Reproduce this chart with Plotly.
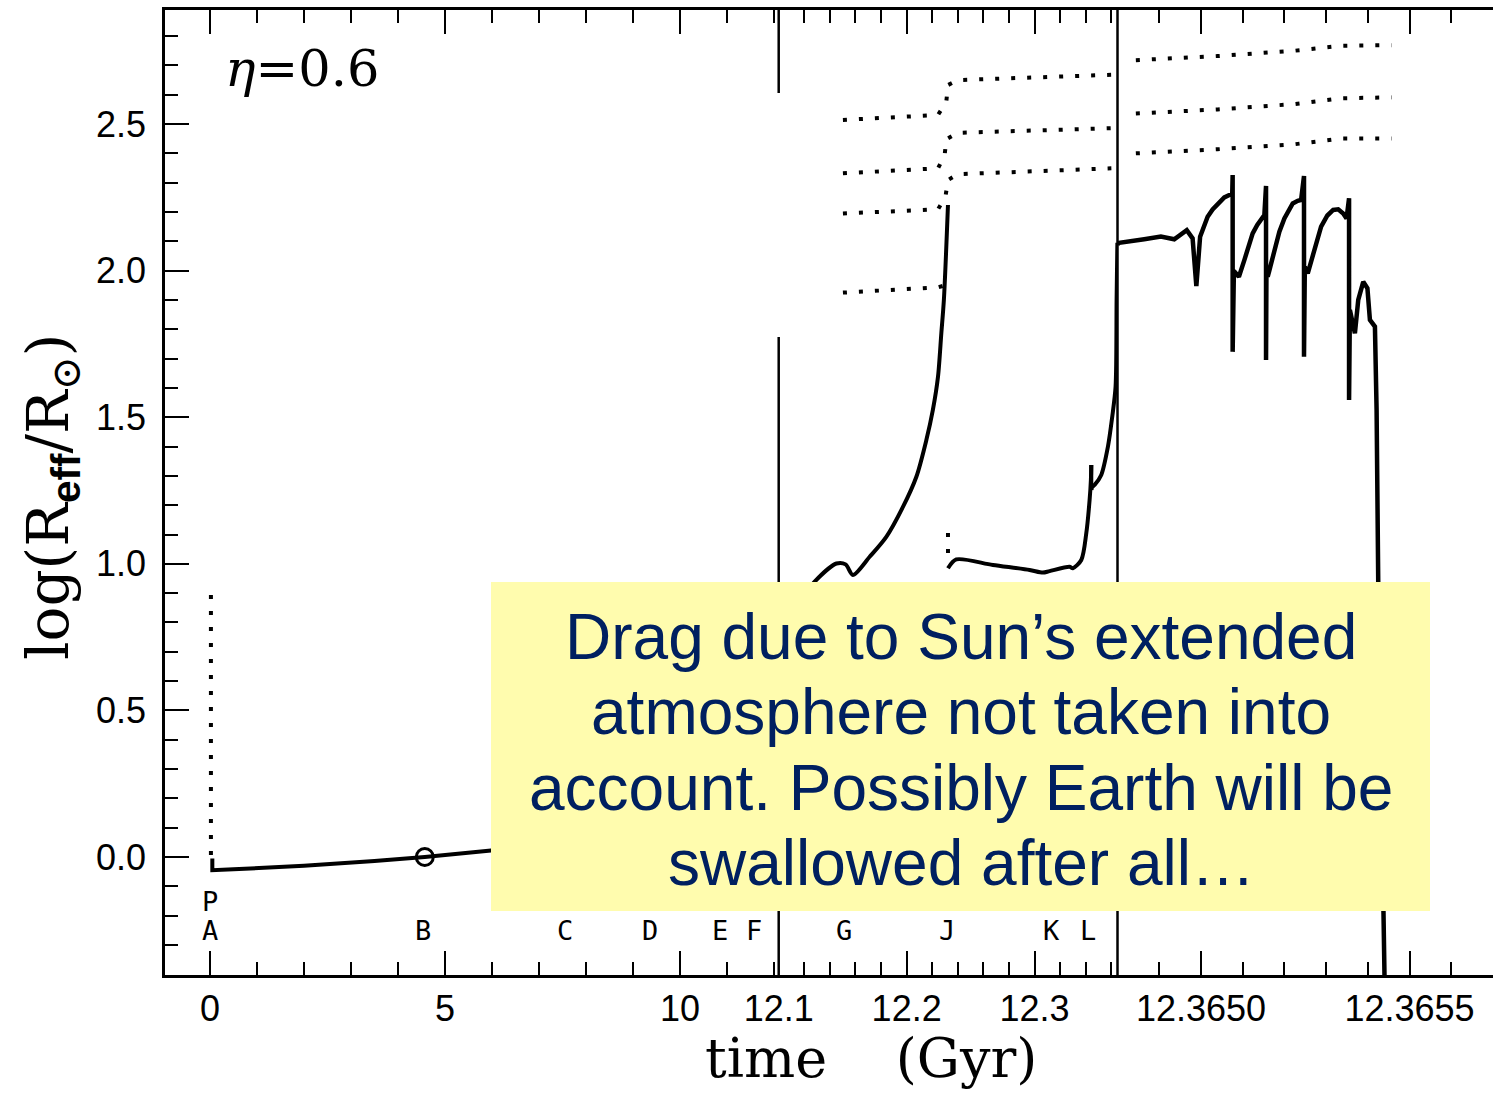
import plotly.graph_objects as go

# ---------------- data ----------------
# Panel 1: 0 - 12.1 Gyr
p1_time = [0.05, 0.05, 0.5, 2.0, 3.5, 4.57, 5.98, 6.4]
p1_logr = [-0.005, -0.045, -0.042, -0.030, -0.014, 0.0, 0.022, 0.03]
p1_dot_time = [0.02, 0.02]
p1_dot_logr = [0.894, -0.02]
present_time = [4.57]
present_logr = [0.0]

# Panel 2: 12.1 - 12.3648 Gyr  (RGB tip)
rgb_time = [12.118, 12.1281, 12.1451, 12.1523, 12.1580, 12.1711, 12.1841, 12.1971,
            12.2076, 12.2154, 12.2205, 12.2245, 12.2271, 12.2291, 12.2323]
rgb_logr = [0.88, 0.939, 1.001, 0.998, 0.962, 1.024, 1.092, 1.194,
            1.297, 1.422, 1.525, 1.638, 1.786, 1.900, 2.224]
# horizontal branch / early AGB (before and after the small spike)
agb1_time = [12.2323, 12.2388, 12.2674, 12.2961, 12.3065, 12.3117, 12.3273, 12.3299,
             12.3365, 12.3404, 12.3430, 12.3440, 12.3443]
agb1_logr = [0.985, 1.015, 0.996, 0.979, 0.970, 0.975, 0.990, 0.985,
             1.013, 1.104, 1.218, 1.286, 1.337]
agb2_time = [12.3443, 12.3450, 12.3469, 12.3521, 12.3573, 12.3607, 12.3633, 12.3641, 12.3647]
agb2_logr = [1.252, 1.262, 1.269, 1.303, 1.399, 1.502, 1.604, 1.900, 2.095]
j_dot_time = [12.2323, 12.2323]
j_dot_logr = [1.105, 1.037]

# orbit (dotted) curves, panel 2
orb2_time_a = [12.1502, 12.2245, 12.2310, 12.2323, 12.2401, 12.3534, 12.3600]
orb2_logr_a = [2.514, 2.531, 2.576, 2.633, 2.650, 2.664, 2.668]
orb2_time_b = [12.1502, 12.2245, 12.2297, 12.2310, 12.2401, 12.3534, 12.3600]
orb2_logr_b = [2.332, 2.349, 2.394, 2.448, 2.470, 2.482, 2.486]
orb2_time_c = [12.1502, 12.2245, 12.2304, 12.2323, 12.2401, 12.3534, 12.3600]
orb2_logr_c = [2.195, 2.209, 2.254, 2.309, 2.329, 2.345, 2.349]
orb2_time_d = [12.1502, 12.2245, 12.2300]
orb2_logr_d = [1.925, 1.943, 1.950]

# Panel 3: 12.3648 - 12.3657 Gyr (thermal pulses)
tp_time = [12.364800, 12.364804, 12.364864, 12.364904, 12.364936, 12.364952, 12.364966,
           12.364980, 12.364989, 12.364998, 12.365008, 12.365016, 12.365028, 12.365040,
           12.365056, 12.365068, 12.365075,
           12.365076, 12.365076, 12.365079, 12.365091, 12.365104, 12.365114, 12.365124,
           12.365135, 12.365144, 12.365152,
           12.365156, 12.365156, 12.365157, 12.365160, 12.365168, 12.365176, 12.365188,
           12.365200, 12.365212, 12.365220, 12.365232, 12.365240,
           12.365247, 12.365247, 12.365249, 12.365256, 12.365268, 12.365279, 12.365288,
           12.365303, 12.365317, 12.365329, 12.365341, 12.365349,
           12.365355, 12.365355, 12.365357, 12.365369, 12.365377, 12.365389, 12.365399,
           12.365405, 12.365417, 12.365421, 12.365425, 12.365440]
tp_logr = [2.090, 2.095, 2.107, 2.116, 2.107, 2.122, 2.138,
           2.110, 1.947, 2.116, 2.156, 2.184, 2.209, 2.229,
           2.250, 2.258, 2.262,
           2.326, 1.723, 1.999, 1.979, 2.036, 2.084, 2.127,
           2.156, 2.178, 2.190,
           2.289, 1.695, 2.002, 1.979, 2.025, 2.070, 2.133,
           2.178, 2.212, 2.229, 2.238, 2.241,
           2.323, 1.706, 2.013, 1.991, 2.047, 2.104, 2.150,
           2.188, 2.207, 2.209, 2.195, 2.178,
           2.247, 1.559, 1.866, 1.786, 1.900, 1.962, 1.940,
           1.832, 1.809, 1.525, 0.930, -0.410]

orb3_time = [12.364844, 12.365040, 12.365224, 12.365337, 12.365457]
orb3_logr_a = [2.718, 2.732, 2.750, 2.767, 2.769]
orb3_logr_b = [2.536, 2.550, 2.568, 2.588, 2.591]
orb3_logr_c = [2.400, 2.414, 2.431, 2.451, 2.451]

# phase letters
phase1_labels = ["A", "B", "C", "D", "E", "F"]
phase1_time = [0.0, 4.53, 7.55, 9.36, 10.85, 11.57]
phase2_labels = ["G", "J", "K", "L"]
phase2_time = [12.1508, 12.2313, 12.3133, 12.3414]
phase_level = -0.252
p_label_time = 0.0
p_label_level = -0.153

# axes ticks
x1_ticks = [0, 5, 10, 12.1]
x1_ticktext = ["0", "5", "10", "12.1"]
x1_minor = [1, 2, 3, 4, 6, 7, 8, 9, 11, 12]
x2_ticks = [12.2, 12.3]
x2_ticktext = ["12.2", "12.3"]
x2_minor = [12.12, 12.14, 12.16, 12.18, 12.22, 12.24, 12.26, 12.28, 12.32, 12.34, 12.36]
x3_ticks = [12.3650, 12.3655]
x3_ticktext = ["12.3650", "12.3655"]
x3_minor = [12.3649, 12.3651, 12.3652, 12.3653, 12.3654, 12.3656]
y_ticks = [0.0, 0.5, 1.0, 1.5, 2.0, 2.5]
y_ticktext = ["0.0", "0.5", "1.0", "1.5", "2.0", "2.5"]

# ---------------- figure ----------------
W, H = 1499, 1093
L, R, T, B = 165, 6, 10, 118
pw = W - L - R
ph = H - T - B

def px_x(px):
    return (px - L) / pw

def px_y(py):
    return 1 - (py - T) / ph

d1 = px_x(778.7)
d2 = px_x(1117.5)

SOLID = dict(color="black", width=4)
DOT = dict(color="black", width=4, dash="4px,12px")

fig = go.Figure()
# panel 1
fig.add_trace(go.Scatter(x=p1_dot_time, y=p1_dot_logr, mode="lines", line=DOT, xaxis="x", yaxis="y"))
fig.add_trace(go.Scatter(x=p1_time, y=p1_logr, mode="lines", line=SOLID, xaxis="x", yaxis="y"))
fig.add_trace(go.Scatter(x=present_time, y=present_logr, mode="markers",
                         marker=dict(symbol="circle-open", size=17, color="black", line=dict(width=3)),
                         xaxis="x", yaxis="y"))
# panel 2
for tx, ty in [(orb2_time_a, orb2_logr_a), (orb2_time_b, orb2_logr_b),
               (orb2_time_c, orb2_logr_c), (orb2_time_d, orb2_logr_d), (j_dot_time, j_dot_logr)]:
    fig.add_trace(go.Scatter(x=tx, y=ty, mode="lines", line=DOT, xaxis="x2", yaxis="y"))
for tx, ty in [(rgb_time, rgb_logr), (agb1_time, agb1_logr), (agb2_time, agb2_logr)]:
    fig.add_trace(go.Scatter(x=tx, y=ty, mode="lines", line=dict(SOLID, shape="spline", smoothing=0.8),
                             xaxis="x2", yaxis="y"))
fig.add_trace(go.Scatter(x=[agb1_time[-1], agb2_time[0]], y=[agb1_logr[-1], agb2_logr[0]],
                         mode="lines", line=SOLID, xaxis="x2", yaxis="y"))
# panel 3
for ty in [orb3_logr_a, orb3_logr_b, orb3_logr_c]:
    fig.add_trace(go.Scatter(x=orb3_time, y=ty, mode="lines", line=DOT, xaxis="x3", yaxis="y"))
fig.add_trace(go.Scatter(x=tp_time, y=tp_logr, mode="lines", line=dict(SOLID, width=4.5),
                         xaxis="x3", yaxis="y"))

tickfont = dict(family="Liberation Sans, Arial, sans-serif", size=36, color="black")
yrange = [-0.4025, 2.889]

def xax(dom, rng, tv, tt, minor):
    return dict(domain=dom, range=rng, anchor="y", tickmode="array", tickvals=tv, ticktext=tt,
                ticks="inside", ticklen=24, tickwidth=2, tickcolor="black",
                minor=dict(tickmode="array", tickvals=minor, ticks="inside", ticklen=13,
                           tickwidth=2, tickcolor="black", showgrid=False),
                showline=True, linecolor="black", linewidth=2.5, mirror="ticks",
                showgrid=False, zeroline=False, tickfont=tickfont, ticklabelstandoff=0,
                automargin=False)

yax_common = dict(range=yrange, tickmode="array", tickvals=y_ticks, ticktext=y_ticktext,
                  ticks="inside", ticklen=24, tickwidth=2, tickcolor="black",
                  minor=dict(dtick=0.1, tick0=0, ticks="inside", ticklen=13, tickwidth=2,
                             tickcolor="black", showgrid=False),
                  showline=True, linecolor="black", linewidth=2.5,
                  showgrid=False, zeroline=False, tickfont=tickfont, automargin=False)

fig.update_layout(
    width=W, height=H, margin=dict(l=L, r=R, t=T, b=B, autoexpand=False),
    paper_bgcolor="white", plot_bgcolor="white", showlegend=False,
    xaxis=xax([0, d1], [-0.957, 12.1], x1_ticks, x1_ticktext, x1_minor),
    xaxis2=xax([d1, d2], [12.1, 12.3648], x2_ticks, x2_ticktext, x2_minor),
    xaxis3=xax([d2, 1], [12.3648, 12.3657], x3_ticks, x3_ticktext, x3_minor),
    yaxis=dict(domain=[0, 1], anchor="x", side="left", ticklabelstandoff=9, **yax_common),
    yaxis2=dict(domain=[0, 1], anchor="x3", side="right", overlaying="y",
                showticklabels=False, **yax_common),
)

shapes = [
    # panel dividers
    dict(type="line", xref="paper", yref="paper", x0=d1, x1=d1, y0=px_y(975), y1=px_y(337),
         line=dict(color="black", width=2.5)),
    dict(type="line", xref="paper", yref="paper", x0=d1, x1=d1, y0=px_y(93), y1=1,
         line=dict(color="black", width=2.5)),
    dict(type="line", xref="paper", yref="paper", x0=d2, x1=d2, y0=0, y1=1,
         line=dict(color="black", width=2.5)),
    # yellow comment box
    dict(type="rect", xref="paper", yref="paper", x0=px_x(491), x1=px_x(1430),
         y0=px_y(911), y1=px_y(582), fillcolor="#FFFCAE", line=dict(width=0), layer="above"),
]
fig.update_layout(shapes=shapes)

ann = []
C = dict(showarrow=False, xanchor="center", yanchor="middle")
letter_font = dict(family="DejaVu Sans Mono, monospace", size=27, color="black")
for lab, t in zip(phase1_labels, phase1_time):
    ann.append(dict(x=t, y=phase_level, xref="x", yref="y", text=lab, font=letter_font, **C))
for lab, t in zip(phase2_labels, phase2_time):
    ann.append(dict(x=t, y=phase_level, xref="x2", yref="y", text=lab, font=letter_font, **C))
ann.append(dict(x=p_label_time, y=p_label_level, xref="x", yref="y", text="P", font=letter_font, **C))

# eta label
ann.append(dict(x=px_x(302), y=px_y(68), xref="paper", yref="paper",
                text="<i>η</i>=0.6", font=dict(family="DejaVu Serif, serif", size=51, color="black"), **C))

# axis titles
ann.append(dict(x=px_x(52), y=px_y(497), xref="paper", yref="paper", textangle=-90,
                text="log(R<sub><b><span style='font-family:Liberation Sans'>eff</span></b></sub>/R<sub>⊙</sub>)",
                font=dict(family="DejaVu Serif, serif", size=58, color="black"), **C))
ann.append(dict(x=px_x(871), y=px_y(1058), xref="paper", yref="paper",
                text="time&nbsp;&nbsp;&nbsp;&nbsp;(Gyr)",
                font=dict(family="DejaVu Serif, serif", size=54, color="black"), **C))

# box text
box_font = dict(family="Liberation Sans, Arial, sans-serif", size=64, color="#002060")
box_lines = ["Drag due to Sun’s extended", "atmosphere not taken into",
             "account. Possibly Earth will be", "swallowed after all…"]
for line, py in zip(box_lines, [637, 712, 788, 863]):
    ann.append(dict(x=px_x(961), y=px_y(py), xref="paper", yref="paper",
                    text=line, font=box_font, **C))
fig.update_layout(annotations=ann)

fig.write_html("out.html")
